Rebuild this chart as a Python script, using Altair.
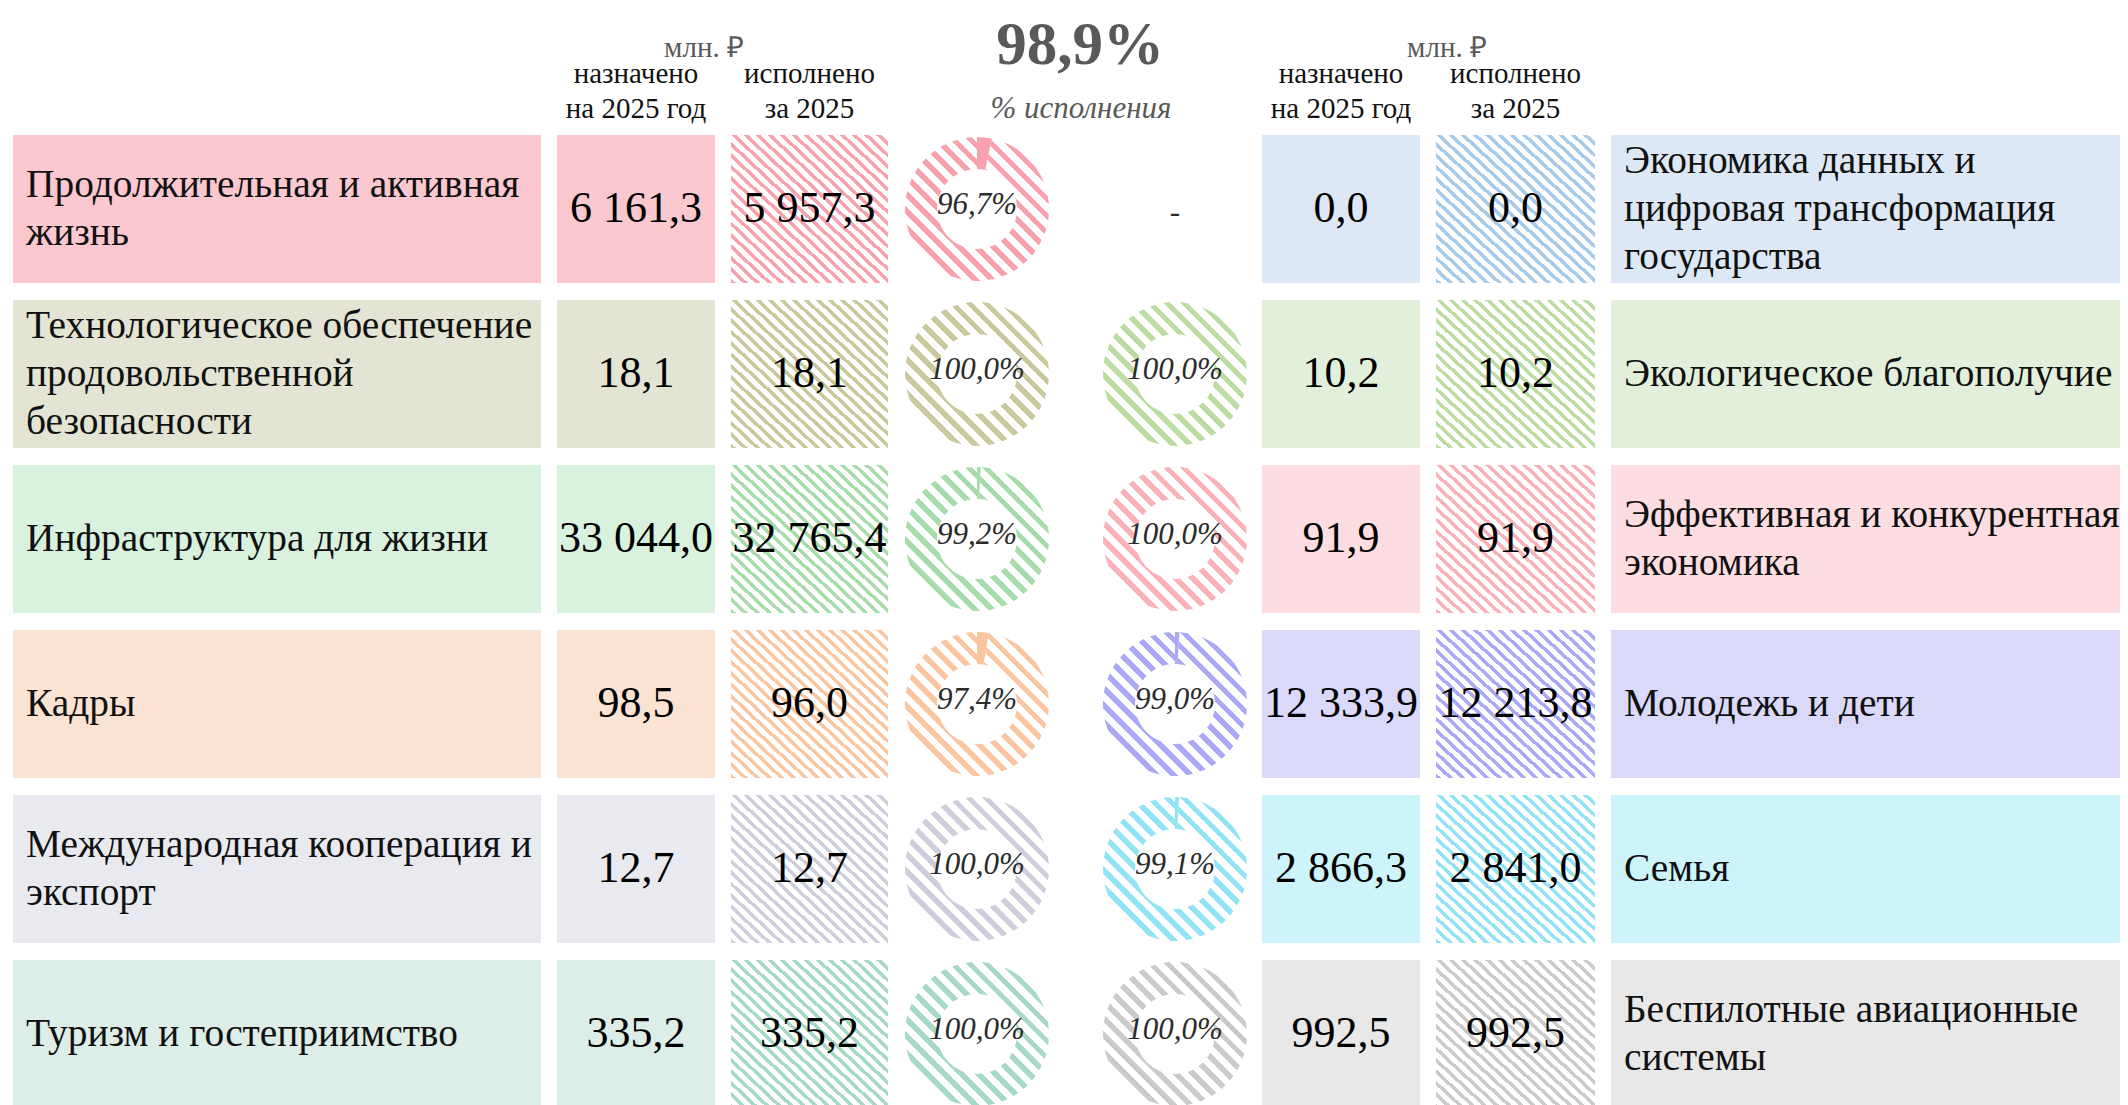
import math
import altair as alt
import pandas as pd

# ---------------- data ----------------
left_labels = [
    "Продолжительная и активная\nжизнь",
    "Технологическое обеспечение\nпродовольственной\nбезопасности",
    "Инфраструктура для жизни",
    "Кадры",
    "Международная кооперация и\nэкспорт",
    "Туризм и гостеприимство",
]
left_plan = [6161.3, 18.1, 33044.0, 98.5, 12.7, 335.2]
left_fact = [5957.3, 18.1, 32765.4, 96.0, 12.7, 335.2]
left_pct = [96.7, 100.0, 99.2, 97.4, 100.0, 100.0]

right_labels = [
    "Экономика данных и\nцифровая трансформация\nгосударства",
    "Экологическое благополучие",
    "Эффективная и конкурентная\nэкономика",
    "Молодежь и дети",
    "Семья",
    "Беспилотные авиационные\nсистемы",
]
right_plan = [0.0, 10.2, 91.9, 12333.9, 2866.3, 992.5]
right_fact = [0.0, 10.2, 91.9, 12213.8, 2841.0, 992.5]
right_pct = [None, 100.0, 100.0, 99.0, 99.1, 100.0]

total_pct = 98.9
unit_label = "млн. ₽"
head_plan = "назначено\nна 2025 год"
head_fact = "исполнено\nза 2025"
pct_caption = "% исполнения"

# ---------------- styles ----------------
left_box = ["#FCC8D0", "#E3E4D3", "#D9F2DD", "#FBE3D3", "#E8EAF0", "#DCEEE7"]
left_hatch = ["#F9A2AF", "#C9C99D", "#A8DDAB", "#F9C6A1", "#CDD0DC", "#A8D9C6"]
right_box = ["#DCE8F5", "#E2EFDA", "#FDDDE1", "#DAD9FA", "#CDF3FB", "#E8E8E8"]
right_hatch = ["#A9CBEA", "#BBDDA3", "#F9B2BA", "#ABA9F5", "#93E3F6", "#CBCBCB"]

FONT = "Liberation Serif"
GRAY = "#595959"

# layout (page pixels)
W, H = 2112, 1097
ROW_TOP0, ROW_PITCH, ROW_H = 135, 165, 148
COL_LLABEL = (13, 541)
COL_LPLAN = (557, 715)
COL_LFACT = (731, 888)
DONUT_L = 977
DONUT_R = 1175
COL_RPLAN = (1262, 1420)
COL_RFACT = (1436, 1595)
COL_RLABEL = (1611, 2140)
R_OUT, R_IN = 72, 40
LABEL_LH = 48

xs = alt.Scale(domain=[8, 8 + W], nice=False, zero=False)
ys = alt.Scale(domain=[8, 8 + H], nice=False, zero=False, reverse=True)
ts = alt.Scale(domain=[0, 100], range=[0, 2 * math.pi])


def fmt(v):
    return f"{v:,.1f}".replace(",", " ").replace(".", ",")


def fmtp(p):
    return f"{p:.1f}".replace(".", ",") + "%"


def hatch(color, n, frac=0.42):
    stops = []
    for i in range(n):
        a = i / n
        b = (i + frac) / n
        c = (i + 1) / n
        stops += [
            {"offset": a, "color": color},
            {"offset": b, "color": color},
            {"offset": b, "color": "#ffffff"},
            {"offset": c, "color": "#ffffff"},
        ]
    return {"gradient": "linear", "x1": 0, "y1": 1, "x2": 1, "y2": 0, "stops": stops}


def row_top(i):
    return ROW_TOP0 + ROW_PITCH * i


def rect_enc():
    return dict(
        x=alt.X("x0:Q", scale=xs, axis=None),
        x2="x1:Q",
        y=alt.Y("y0:Q", scale=ys, axis=None),
        y2="y1:Q",
    )


def pt_enc():
    return dict(
        x=alt.X("x:Q", scale=xs, axis=None),
        y=alt.Y("y:Q", scale=ys, axis=None),
    )


# solid boxes
box_rows = []
for i in range(6):
    t = row_top(i)
    for (x0, x1) in (COL_LLABEL, COL_LPLAN):
        box_rows.append(dict(x0=x0, x1=x1, y0=t, y1=t + ROW_H, c=left_box[i]))
    for (x0, x1) in (COL_RLABEL, COL_RPLAN):
        box_rows.append(dict(x0=x0, x1=x1, y0=t, y1=t + ROW_H, c=right_box[i]))
boxes = alt.Chart(pd.DataFrame(box_rows)).mark_rect(clip=True).encode(
    color=alt.Color("c:N", scale=None), **rect_enc()
)

layers = [boxes]

# hatched boxes
for i in range(6):
    t = row_top(i)
    for (x0, x1), col in ((COL_LFACT, left_hatch[i]), (COL_RFACT, right_hatch[i])):
        df = pd.DataFrame([dict(x0=x0, x1=x1, y0=t, y1=t + ROW_H)])
        layers.append(
            alt.Chart(df).mark_rect(clip=True, fill=hatch(col, 26)).encode(**rect_enc())
        )

# donuts
solid_rows = []
for i in range(6):
    cy = row_top(i) + ROW_H / 2
    for cx, pct, col in ((DONUT_L, left_pct[i], left_hatch[i]), (DONUT_R, right_pct[i], right_hatch[i])):
        if pct is None:
            continue
        df = pd.DataFrame([dict(x=cx, y=cy, t0=100 - pct, t1=100)])
        layers.append(
            alt.Chart(df)
            .mark_arc(clip=True, outerRadius=R_OUT, innerRadius=R_IN, fill=hatch(col, 17, 0.45))
            .encode(
                theta=alt.Theta("t0:Q", scale=ts, stack=None),
                theta2="t1:Q",
                **pt_enc(),
            )
        )
        if pct < 100:
            solid_rows.append(dict(x=cx, y=cy, t0=0, t1=100 - pct, c=col))

if solid_rows:
    layers.append(
        alt.Chart(pd.DataFrame(solid_rows))
        .mark_arc(clip=True, outerRadius=R_OUT, innerRadius=R_IN)
        .encode(
            theta=alt.Theta("t0:Q", scale=ts, stack=None),
            theta2="t1:Q",
            color=alt.Color("c:N", scale=None),
            **pt_enc(),
        )
    )

# texts
lab_rows = []
val_rows = []
pct_rows = []
for i in range(6):
    cy = row_top(i) + ROW_H / 2
    for x, s in ((COL_LLABEL[0] + 13, left_labels[i]), (COL_RLABEL[0] + 13, right_labels[i])):
        n = s.count("\n") + 1
        lab_rows.append(dict(x=x, y=cy - (n - 1) * LABEL_LH / 2, s=s))
    val_rows.append(dict(x=sum(COL_LPLAN) / 2, y=cy, s=fmt(left_plan[i])))
    val_rows.append(dict(x=sum(COL_LFACT) / 2, y=cy, s=fmt(left_fact[i])))
    val_rows.append(dict(x=sum(COL_RPLAN) / 2, y=cy, s=fmt(right_plan[i])))
    val_rows.append(dict(x=sum(COL_RFACT) / 2, y=cy, s=fmt(right_fact[i])))
    for cx, p in ((DONUT_L, left_pct[i]), (DONUT_R, right_pct[i])):
        if p is None:
            pct_rows.append(dict(x=cx, y=cy + 4, s="-"))
        else:
            pct_rows.append(dict(x=cx, y=cy - 4, s=fmtp(p)))

labels = alt.Chart(pd.DataFrame(lab_rows)).mark_text(
    clip=True, align="left", baseline="middle", font=FONT, fontSize=39.4,
    lineHeight=LABEL_LH, lineBreak="\n", color="#111111"
).encode(text="s:N", **pt_enc())

values = alt.Chart(pd.DataFrame(val_rows)).mark_text(
    clip=True, align="center", baseline="middle", font=FONT, fontSize=44, color="#000000"
).encode(text="s:N", **pt_enc())

pcts = alt.Chart(pd.DataFrame(pct_rows)).mark_text(
    clip=True, align="center", baseline="middle", font=FONT, fontSize=31,
    fontStyle="italic", color="#2b2b2b"
).encode(text="s:N", **pt_enc())

layers += [labels, values, pcts]

# headers
head_rows = [
    dict(x=sum(COL_LPLAN) / 2, y=83, s=head_plan),
    dict(x=sum(COL_LFACT) / 2, y=83, s=head_fact),
    dict(x=sum(COL_RPLAN) / 2, y=83, s=head_plan),
    dict(x=sum(COL_RFACT) / 2, y=83, s=head_fact),
]
heads = alt.Chart(pd.DataFrame(head_rows)).mark_text(
    align="center", baseline="alphabetic", font=FONT, fontSize=29,
    lineHeight=35, lineBreak="\n", color="#111111"
).encode(text="s:N", **pt_enc())

unit_rows = [dict(x=704, y=57, s=unit_label), dict(x=1447, y=57, s=unit_label)]
units = alt.Chart(pd.DataFrame(unit_rows)).mark_text(
    align="center", baseline="alphabetic", font=FONT, fontSize=29, color=GRAY
).encode(text="s:N", **pt_enc())

big = alt.Chart(pd.DataFrame([dict(x=1080, y=64, s=fmtp(total_pct))])).mark_text(
    align="center", baseline="alphabetic", font=FONT, fontSize=61, fontWeight="bold", color=GRAY
).encode(text="s:N", **pt_enc())

cap = alt.Chart(pd.DataFrame([dict(x=1081, y=118, s=pct_caption)])).mark_text(
    align="center", baseline="alphabetic", font=FONT, fontSize=31, fontStyle="italic", color=GRAY
).encode(text="s:N", **pt_enc())

layers += [heads, units, big, cap]

chart = (
    alt.layer(*layers)
    .properties(width=W, height=H, autosize=alt.AutoSizeParams(type="none"),
                padding=0, background="#ffffff")
    .configure_view(stroke="transparent", strokeWidth=0)
)

chart.save("out.html", embed_options={"renderer": "svg", "actions": False})
